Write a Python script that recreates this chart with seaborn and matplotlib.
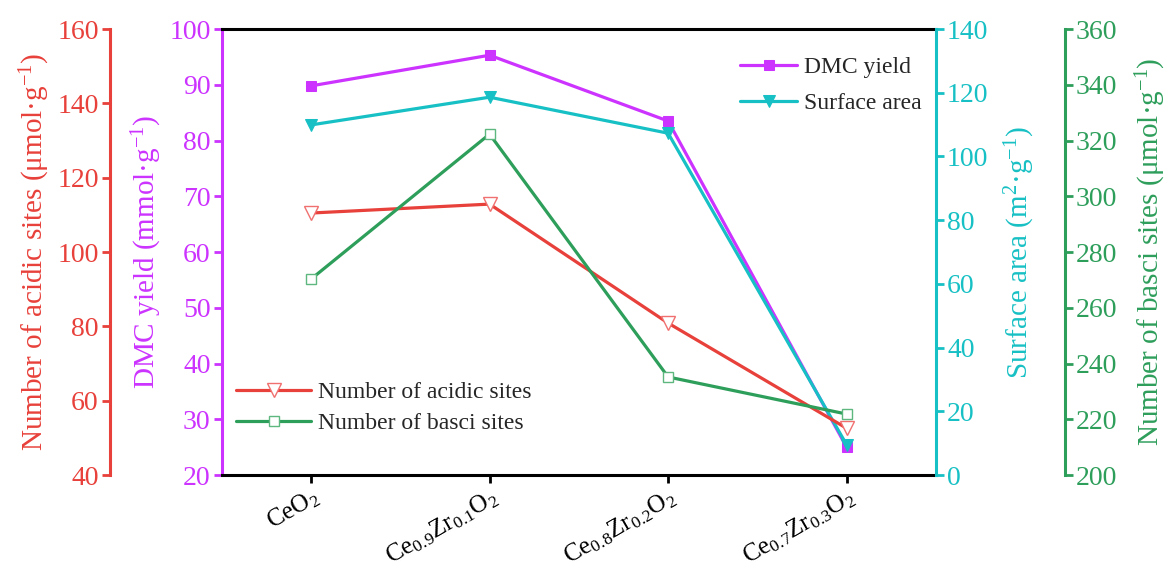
import pandas as pd
import matplotlib
matplotlib.use('Agg')
import matplotlib.pyplot as plt
import seaborn as sns

# data
catalysts = [r'CeO$_2$', r'Ce$_{0.9}$Zr$_{0.1}$O$_2$',
             r'Ce$_{0.8}$Zr$_{0.2}$O$_2$', r'Ce$_{0.7}$Zr$_{0.3}$O$_2$']
dmc_yield = [89.8, 95.3, 83.5, 25.0]
surface_area = [109.9, 118.6, 107.3, 9.5]
acidic_sites = [110.5, 112.9, 80.9, 52.6]
basic_sites = [270.3, 322.3, 235.2, 221.9]

c_mag = '#CC33FF'
c_cyan = '#17C0C4'
c_red = '#E8403A'
c_green = '#2E9E5B'

sns.set_style('ticks')
plt.rcParams['font.family'] = ['Liberation Serif', 'DejaVu Serif']
plt.rcParams['mathtext.fontset'] = 'custom'
plt.rcParams['mathtext.rm'] = 'Liberation Serif'
plt.rcParams['mathtext.it'] = 'Liberation Serif:italic'
plt.rcParams['mathtext.default'] = 'rm'

df = pd.DataFrame({'x': range(len(catalysts)), 'dmc': dmc_yield,
                   'area': surface_area, 'acid': acidic_sites, 'basic': basic_sites})

DPI = 100
fig = plt.figure(figsize=(11.67, 5.69), dpi=DPI)
ax = fig.add_axes([0.190, 0.165, 0.612, 0.784])
ax_area = ax.twinx()
ax_acid = ax.twinx()
ax_basic = ax.twinx()

lw = 2.3
sns.lineplot(data=df, x='x', y='dmc', ax=ax, color=c_mag, lw=lw, marker='s',
             markersize=7.5, markeredgecolor=c_mag, label='DMC yield', legend=False)
sns.lineplot(data=df, x='x', y='area', ax=ax_area, color=c_cyan, lw=lw, marker='v',
             markersize=8.5, markeredgecolor=c_cyan, label='Surface area', legend=False)
sns.lineplot(data=df, x='x', y='acid', ax=ax_acid, color=c_red, lw=lw, marker='v',
             markersize=9.5, markerfacecolor='white', markeredgecolor='#F07070',
             markeredgewidth=1.0, label='Number of acidic sites', legend=False)
sns.lineplot(data=df, x='x', y='basic', ax=ax_basic, color=c_green, lw=lw, marker='s',
             markersize=7.5, markerfacecolor='white', markeredgecolor='#5DB77F',
             markeredgewidth=1.0, label='Number of basci sites', legend=False)

fs_tick = 20
fs_lab = 21

ax.set_xlim(-0.5, 3.5)
ax.set_xticks(range(len(catalysts)))
ax.set_xticklabels(catalysts, rotation=30, ha='right', rotation_mode='anchor',
                   fontsize=18)
ax.set_xlabel('')

def style_axis(a, color, lo, hi, step, side, label, offset_px=0, labelpad=4):
    a.set_ylim(lo, hi)
    a.set_yticks(range(lo, hi + 1, step))
    for s in ['left', 'right', 'top', 'bottom']:
        a.spines[s].set_visible(False)
    a.spines[side].set_visible(True)
    a.spines[side].set_color(color)
    a.spines[side].set_linewidth(2.2)
    if offset_px:
        a.spines[side].set_position(('outward', offset_px * 72 / DPI))
    a.yaxis.set_ticks_position(side)
    a.yaxis.set_label_position(side)
    a.tick_params(axis='y', colors=color, labelsize=fs_tick, width=2, length=6,
                  direction='out', pad=2)
    a.set_ylabel(label, color=color, fontsize=fs_lab, labelpad=labelpad)

style_axis(ax, c_mag, 20, 100, 10, 'left', r'DMC yield (mmol·g$^{-1}$)')
style_axis(ax_area, c_cyan, 0, 140, 20, 'right', r'Surface area (m$^2$·g$^{-1}$)',
           labelpad=10)
style_axis(ax_acid, c_red, 40, 160, 20, 'left',
           r'Number of acidic sites (μmol·g$^{-1}$)', offset_px=112)
style_axis(ax_basic, c_green, 200, 360, 20, 'right',
           r'Number of basci sites (μmol·g$^{-1}$)', offset_px=129, labelpad=12)

for s in ['top', 'bottom']:
    ax.spines[s].set_visible(True)
    ax.spines[s].set_color('black')
    ax.spines[s].set_linewidth(2.2)
ax.tick_params(axis='x', colors='black', width=2, length=6, pad=1)
for a in [ax_area, ax_acid, ax_basic]:
    a.tick_params(axis='x', bottom=False, labelbottom=False)

h1, l1 = ax.get_legend_handles_labels()
h2, l2 = ax_area.get_legend_handles_labels()
h3, l3 = ax_acid.get_legend_handles_labels()
h4, l4 = ax_basic.get_legend_handles_labels()

leg1 = ax_basic.legend(h1 + h2, l1 + l2, loc='upper right', bbox_to_anchor=(1.01, 0.985),
                       frameon=False, fontsize=17, handlelength=2.4,
                       labelspacing=0.6, handletextpad=0.3)
ax_basic.add_artist(leg1)
ax_basic.legend(h3 + h4, l3 + l4, loc='lower left', bbox_to_anchor=(-0.01, 0.045),
                frameon=False, fontsize=17, handlelength=3.2,
                labelspacing=0.4, handletextpad=0.3)

fig.savefig('out.png', dpi=DPI)
